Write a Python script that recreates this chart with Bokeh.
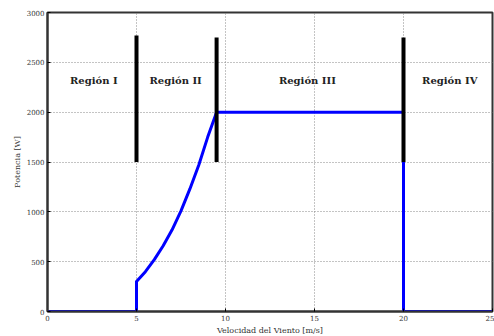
from bokeh.plotting import figure
from bokeh.models import ColumnDataSource, FixedTicker, Range1d
from bokeh.core.properties import value
from bokeh.embed import file_html
from bokeh.resources import INLINE

# data
wind = [0, 5, 5, 5.5, 6, 6.5, 7, 7.5, 8, 8.5, 9, 9.5, 20, 20, 25]
power = [0, 0, 300, 400, 520, 660, 820, 1010, 1230, 1470, 1750, 2000, 2000, 0, 0]

bar_x = [5, 9.5, 20]
bar_bottom = [1500, 1500, 1500]
bar_top = [2770, 2750, 2750]

region_names = ["Región I", "Región II", "Región III", "Región IV"]
region_x = [2.6, 7.2, 14.6, 22.6]
region_y = [2320, 2320, 2320, 2320]

x_ticks = [0, 5, 10, 15, 20, 25]
y_ticks = [0, 500, 1000, 1500, 2000, 2500, 3000]

serif = "DejaVu Serif"

p = figure(width=494, height=336, output_backend="svg", toolbar_location=None,
           x_range=Range1d(0, 25), y_range=Range1d(0, 3000),
           min_border_left=47, min_border_right=2, min_border_top=12, min_border_bottom=25)
p.frame_width = 445
p.frame_height = 299

p.line(wind, power, line_color="#0000ff", line_width=3)
p.segment(x0=bar_x, y0=bar_bottom, x1=bar_x, y1=bar_top, line_color="black", line_width=4)

src = ColumnDataSource(dict(x=region_x, y=region_y, t=region_names))
p.text(x="x", y="y", text="t", source=src, text_font=value(serif), text_font_style="bold",
       text_font_size="10px", text_align="center", text_baseline="middle", text_color="#222222")

p.outline_line_color = "#333333"
p.outline_line_width = 2

for ax in (p.xaxis, p.yaxis):
    ax.major_label_text_font = serif
    ax.major_label_text_font_size = "7px"
    ax.major_label_text_color = "#333333"
    ax.axis_label_text_font = serif
    ax.axis_label_text_font_size = "8px"
    ax.axis_label_text_font_style = "normal"
    ax.axis_label_text_color = "#333333"
    ax.major_tick_in = 3
    ax.major_tick_out = 0
    ax.minor_tick_line_color = None
    ax.axis_line_color = "#333333"
    ax.axis_line_width = 2
    ax.major_label_standoff = 3
    ax.axis_label_standoff = 2

p.xaxis.ticker = FixedTicker(ticks=x_ticks)
p.yaxis.ticker = FixedTicker(ticks=y_ticks)
p.xaxis.axis_label = "Velocidad del Viento [m/s]"
p.yaxis.axis_label = "Potencia [W]"

p.grid.grid_line_color = "#888888"
p.grid.grid_line_dash = "1 2"
p.grid.grid_line_width = 1
p.xgrid.ticker = FixedTicker(ticks=x_ticks)
p.ygrid.ticker = FixedTicker(ticks=y_ticks)

open("out.html", "w").write(file_html(p, INLINE))
